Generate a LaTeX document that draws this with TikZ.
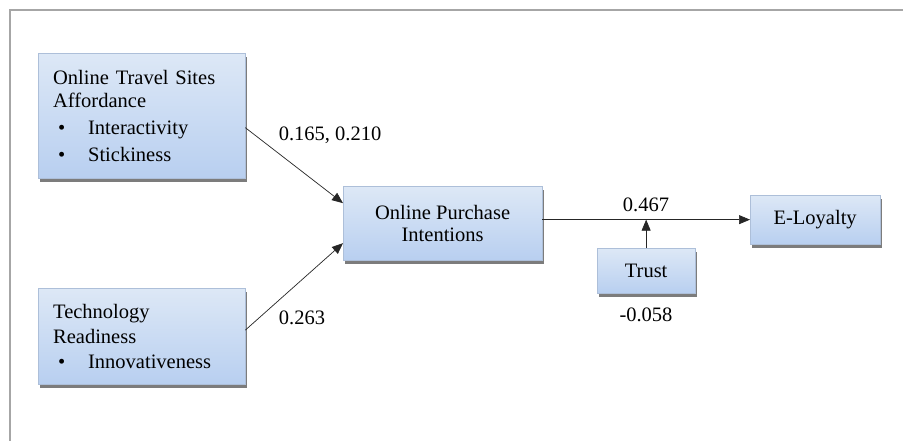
\documentclass[tikz,border=0pt]{standalone}
\usepackage{fontspec}
\setmainfont{LiberationSerif}[Extension=.ttf, UprightFont=*-Regular, BoldFont=*-Bold, ItalicFont=*-Italic]
\usetikzlibrary{shadows,arrows.meta}
\definecolor{boxtop}{HTML}{DDE8F6}
\definecolor{boxbot}{HTML}{B8CFF0}
\definecolor{framegray}{HTML}{A6A6A6}
\tikzset{
  box/.style={top color=boxtop, bottom color=boxbot, draw=boxbot!80!gray, line width=0.3pt,
    drop shadow={shadow xshift=1.5pt, shadow yshift=-3.5pt, fill=black!60, opacity=0.85},
    font=\fontsize{20.5}{23}\selectfont, inner sep=0pt},
  lbl/.style={font=\fontsize{20.5}{23}\selectfont, inner sep=0pt},
  arr/.style={-{Triangle[length=11pt,width=9pt]}, line width=0.7pt, draw=black!85}
}
\newcommand{\bul}[1]{\hspace*{5pt}\makebox[30pt][l]{\textbullet}#1}
\begin{document}
\begin{tikzpicture}[x=1pt,y=-1pt]
\useasboundingbox (0,0) rectangle (903,441);
\fill[white] (0,0) rectangle (903,441);
\draw[framegray, line width=2pt] (10,445) -- (10,10) -- (905,10);

\node[box, anchor=north west, minimum width=207pt, minimum height=125pt,
      text width=177pt, align=left] (otsa) at (38,53)
  {Online Travel Sites\\Affordance\\[4pt]\bul{Interactivity}\\[4pt]\bul{Stickiness}};
\node[box, anchor=north west, minimum width=207pt, minimum height=96pt,
      text width=177pt, align=left, font=\fontsize{20.5}{25}\selectfont] (tr) at (38,288)
  {Technology\\Readiness\\\bul{Innovativeness}};
\node[box, anchor=north west, minimum width=199pt, minimum height=74pt,
      align=center, font=\fontsize{20.5}{22}\selectfont] (opi) at (343,186)
  {Online Purchase\\Intentions};
\node[box, anchor=north west, minimum width=98pt, minimum height=45pt] (trust) at (597,248) {Trust};
\node[box, anchor=north west, minimum width=130pt, minimum height=49pt] (el) at (750,195) {E-Loyalty};

\draw[arr] ([yshift=-12pt]otsa.east) -- ([yshift=20pt]opi.west);
\draw[arr] ([yshift=6pt]tr.east) -- ([yshift=-20pt]opi.west);
\draw[arr] (opi.east |- el.west) -- (el.west);
\draw[arr] (trust.north) -- (trust.north |- el.west);

\node[lbl] (l1) at (330,135) {0.165, 0.210};
\node[lbl] (l2) at (302,318) {0.263};
\node[lbl] (l3) at (646,205) {0.467};
\node[lbl] (l4) at (646,315) {-0.058};
\end{tikzpicture}
\end{document}
